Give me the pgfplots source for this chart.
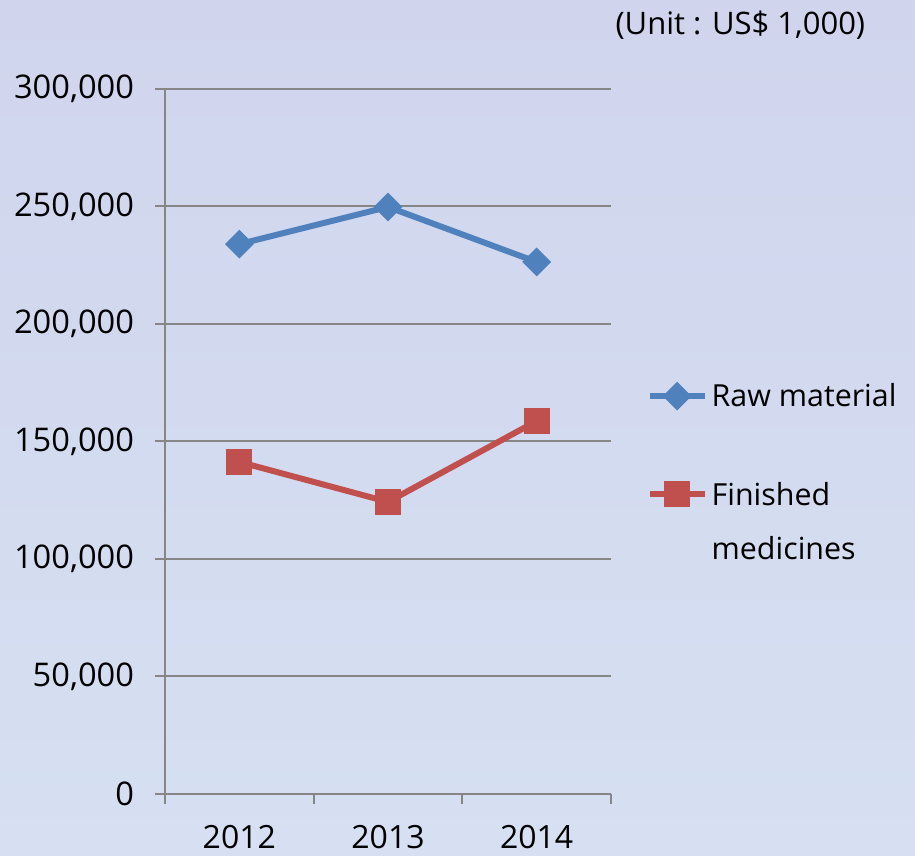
\documentclass[border=0pt]{standalone}
\usepackage{pgfplots}
\pgfplotsset{compat=1.18}
\usepackage{fontspec}
\setmainfont{Open Sans}
\definecolor{rawblue}{RGB}{79,129,189}
\definecolor{finred}{RGB}{192,80,77}
\definecolor{gridgray}{RGB}{134,134,134}
\definecolor{bgtop}{RGB}{208,213,237}
\definecolor{bgmid}{RGB}{194,210,238}
\definecolor{bgbot}{RGB}{214,224,242}
\begin{document}
\begin{tikzpicture}
\shade[top color=bgtop, middle color=bgmid, bottom color=bgbot] (-82.5pt,-31pt) rectangle (375pt,397pt);
\begin{axis}[
  at={(0,0)}, anchor=south west,
  scale only axis, width=223pt, height=352.5pt,
  xmin=-0.5, xmax=2.5, ymin=0, ymax=300000,
  axis lines*=left,
  axis line style={draw=gridgray, line width=1pt},
  xtick={-0.5,0.5,1.5,2.5},
  xticklabels={2012,2013,2014,{}},
  xticklabel style={xshift=37.17pt, font=\fontsize{16}{19}\selectfont, yshift=-7pt},
  ytick={0,50000,100000,150000,200000,250000,300000},
  yticklabels={0,{50,000},{100,000},{150,000},{200,000},{250,000},{300,000}},
  yticklabel style={font=\fontsize{16.3}{19}\selectfont, xshift=-7pt},
  scaled y ticks=false,
  tick align=outside,
  major tick length=5pt,
  tick style={draw=gridgray, line width=1pt},
  ymajorgrids,
  grid style={draw=gridgray, line width=1pt},
  clip=false,
  legend style={at={(1.079,0.494)}, anchor=west, draw=none, fill=none,
    font=\fontsize{15.2}{18}\selectfont, row sep=31.5pt,
    cells={anchor=base west}, inner sep=0pt,
    nodes={inner xsep=2pt}},
  legend cell align=left,
  legend image code/.code={
    \draw[mark repeat=2,mark phase=2] plot coordinates {(0pt,0pt) (13.75pt,0pt) (27.5pt,0pt)};
  },
]
\addplot[rawblue, line width=3pt, mark=square*, mark size=3.6pt, mark options={rotate=45, solid}]
  coordinates {(0,234000) (1,249800) (2,226400)};
\addlegendentry{Raw material}
\addplot[finred, line width=3pt, mark=square*, mark size=5pt, mark options={solid}]
  coordinates {(0,141300) (1,124300) (2,158700)};
\addlegendentry{\begin{tabular}[t]{@{}l@{}}Finished\\[9pt]medicines\end{tabular}}
\node[font=\fontsize{15.5}{18}\selectfont, anchor=center] at (rel axis cs:1.290,1.091) {(Unit : US\$ 1,000)};
\end{axis}
\pgfresetboundingbox
\useasboundingbox (-82.5pt,-31pt) rectangle (375pt,397pt);
\end{tikzpicture}
\end{document}
